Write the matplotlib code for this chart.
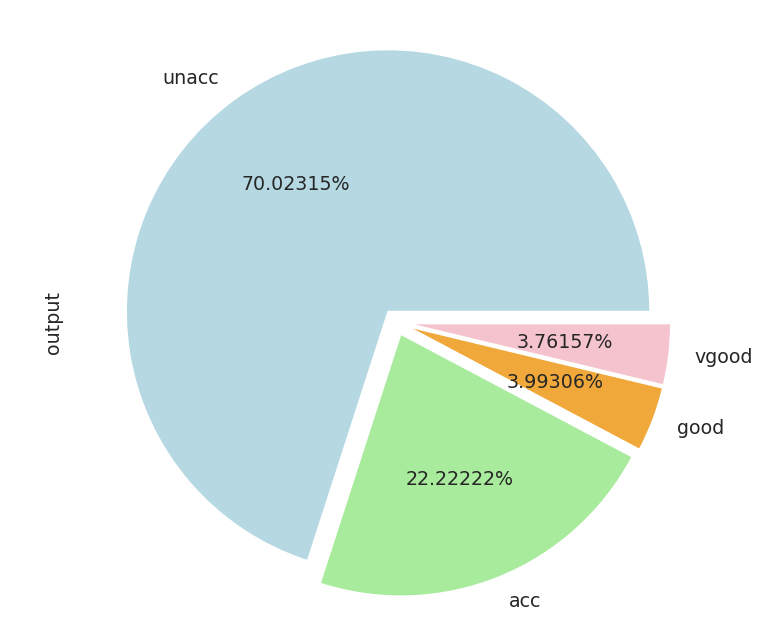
import matplotlib
matplotlib.use("Agg")
import matplotlib.pyplot as plt

# car evaluation class counts
classes = ["unacc", "acc", "good", "vgood"]
counts = [1210, 384, 69, 65]
colors = ["#b5d8e3", "#a8eb9c", "#f0a83b", "#f5c3cd"]
explode = [0.05, 0.05, 0.05, 0.05]

plt.rcParams["font.size"] = 13.7
plt.rcParams["text.color"] = "#262626"
plt.rcParams["axes.labelcolor"] = "#262626"

fig = plt.figure(figsize=(7.72, 6.42), dpi=100)
ax = fig.add_axes([0.0887, -0.0117, 0.848, 1.02])

ax.pie(counts, labels=classes, colors=colors, explode=explode,
       autopct="%.5f%%", wedgeprops={"edgecolor": "white", "linewidth": 1})
ax.set_ylabel("output")

fig.savefig("out.png", dpi=100)
